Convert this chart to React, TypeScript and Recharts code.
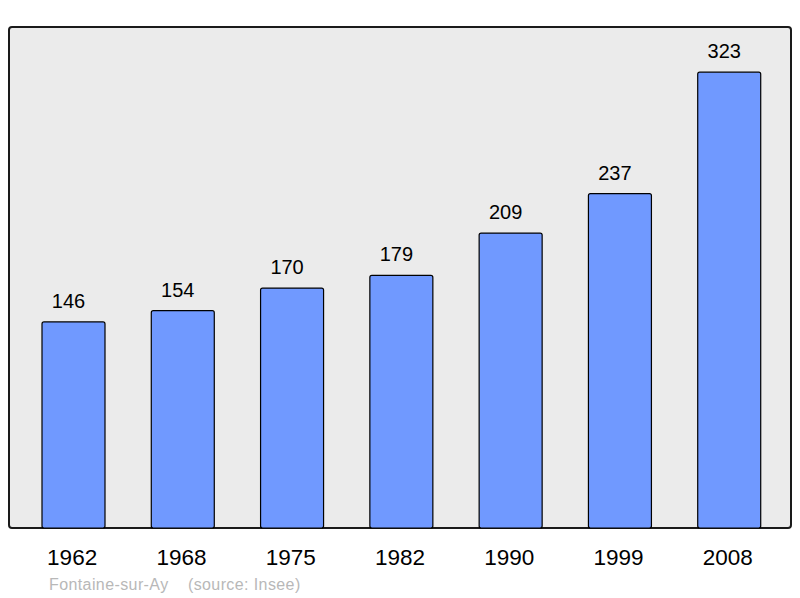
import React from 'react';
import { BarChart, Bar, XAxis, YAxis, LabelList } from 'recharts';

const years = ['1962', '1968', '1975', '1982', '1990', '1999', '2008'];
const population = [146, 154, 170, 179, 209, 237, 323];
const footer = 'Fontaine-sur-Ay    (source: Insee)';

const data = years.map((y, i) => ({ year: y, pop: population[i] }));

const FONT = '"Liberation Sans", Arial, sans-serif';

export default function App() {
  return (
    <div style={{ position: 'absolute', left: 0, top: 0, width: 800, height: 598, background: '#fff', fontFamily: FONT }}>
      <div
        style={{
          position: 'absolute',
          left: 8,
          top: 26,
          width: 784,
          height: 503,
          boxSizing: 'border-box',
          border: '2px solid #1a1a1a',
          borderRadius: 4,
          background: '#ebebeb',
        }}
      />
      <div style={{ position: 'absolute', left: 0, top: 0 }}>
        <BarChart
          width={800}
          height={598}
          data={data}
          margin={{ top: 27, right: 9, bottom: 30, left: 9 }}
        >
          <YAxis hide domain={[0, 355]} type="number" />
          <XAxis
            dataKey="year"
            height={40}
            axisLine={false}
            tickLine={false}
            tickSize={8}
            tickMargin={13}
            padding={{ left: 10, right: 7 }}
            tick={{ fill: '#000', fontSize: 22.5, fontFamily: FONT, dx: -1.5 }}
            interval={0}
          />
          <Bar
            dataKey="pop"
            barSize={63}
            fill="#7099ff"
            stroke="#000"
            strokeWidth={1.2}
            radius={2}
            isAnimationActive={false}
          >
            <LabelList
              dataKey="pop"
              position="top"
              offset={14}
              dx={-5}
              fill="#000"
              fontSize={20}
              fontFamily={FONT}
            />
          </Bar>
        </BarChart>
      </div>
      <div
        style={{
          position: 'absolute',
          left: 49,
          top: 575.5,
          fontSize: 16,
          letterSpacing: 0.4,
          color: '#b8b8b8',
          whiteSpace: 'pre',
          fontFamily: FONT,
          lineHeight: 'normal',
        }}
      >
        {footer}
      </div>
    </div>
  );
}
